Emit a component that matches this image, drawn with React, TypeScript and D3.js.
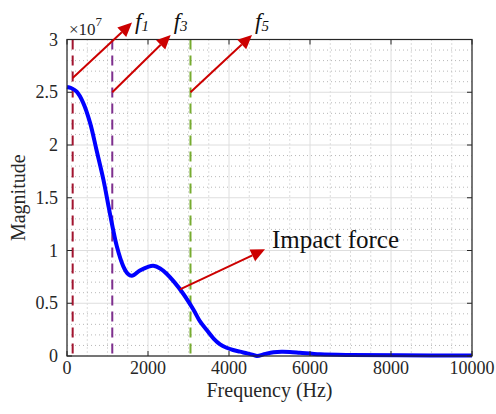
import React from "react";
import * as d3 from "d3";

const freqs = [0, 100, 240, 400, 570, 730, 900, 1060, 1230, 1390, 1500, 1600, 1800, 2000, 2130, 2300, 2460, 2650, 2870, 3120, 3280, 3450, 3620, 3780, 3940, 4100, 4270, 4450, 4600, 4690, 4900, 5100, 5300, 5500, 5750, 6250, 7000, 8200, 10000];
const mags = [2.55, 2.54, 2.505, 2.4, 2.21, 1.95, 1.67, 1.35, 1.04, 0.85, 0.78, 0.76, 0.81, 0.845, 0.855, 0.83, 0.78, 0.7, 0.59, 0.44, 0.33, 0.246, 0.165, 0.11, 0.078, 0.057, 0.041, 0.025, 0.01, 0.0, 0.02, 0.035, 0.04, 0.038, 0.031, 0.016, 0.009, 0.006, 0.005];

const xTicks = [0, 2000, 4000, 6000, 8000, 10000];
const yTicks = [0, 0.5, 1, 1.5, 2, 2.5, 3];
const xMinor = d3.range(0, 10001, 500);
const yMinor = d3.range(0, 3.0001, 0.1);

const markerFreqs = [140, 1118, 3049];
const markerColors = ["#A2142F", "#7E2F8E", "#77AC30"];

const arrowStartF = [140, 1118, 3049, 2790];
const arrowStartM = [2.635, 2.5, 2.5, 0.632];
const arrowEndF = [1605, 2560, 4568, 4889];
const arrowEndM = [3.16, 3.043, 3.043, 1.011];
const fLabels = ["1", "3", "5"];

const W = 496, H = 414;
const L = 67, R = 472, T = 39.5, B = 356;
const serif = "'Liberation Serif', 'Times New Roman', Times, serif";
const ts = { fontFamily: serif };

export default function App() {
  const x = d3.scaleLinear().domain([0, 10000]).range([L, R]);
  const y = d3.scaleLinear().domain([0, 3]).range([B, T]);
  const line = d3.line<number>().x((_, i) => x(freqs[i])).y((d) => y(d)).curve(d3.curveCatmullRom.alpha(0.5));

  const arrow = (i: number) => {
    const x0 = x(arrowStartF[i]), y0 = y(arrowStartM[i]);
    const x1 = x(arrowEndF[i]), y1 = y(arrowEndM[i]);
    const dx = x1 - x0, dy = y1 - y0;
    const len = Math.hypot(dx, dy);
    const ux = dx / len, uy = dy / len;
    const hl = 14, hw = 6.5;
    const bx = x1 - ux * hl, by = y1 - uy * hl;
    const px = -uy, py = ux;
    return (
      <g key={"a" + i}>
        <line x1={x0} y1={y0} x2={bx} y2={by} stroke="#CC0000" strokeWidth={2} />
        <polygon points={`${x1},${y1} ${bx + px * hw},${by + py * hw} ${bx - px * hw},${by - py * hw}`} fill="#CC0000" />
      </g>
    );
  };

  return (
    <svg width={W} height={H} style={{ position: "absolute", left: 0, top: 0, background: "#fff" }}>
      <rect x={L} y={T} width={R - L} height={B - T} fill="#fff" />
      {xMinor.filter((v) => v % 2000 !== 0).map((v) => (
        <line key={"xm" + v} x1={x(v)} x2={x(v)} y1={T} y2={B} stroke="#b8b8b8" strokeWidth={1} strokeDasharray="1,3" />
      ))}
      {yMinor.filter((v) => Math.abs(v * 2 - Math.round(v * 2)) > 1e-6).map((v, i) => (
        <line key={"ym" + i} x1={L} x2={R} y1={y(v)} y2={y(v)} stroke="#b8b8b8" strokeWidth={1} strokeDasharray="1,3" />
      ))}
      {xTicks.map((v) => (
        <line key={"xg" + v} x1={x(v)} x2={x(v)} y1={T} y2={B} stroke="#dedede" strokeWidth={1} />
      ))}
      {yTicks.map((v) => (
        <line key={"yg" + v} x1={L} x2={R} y1={y(v)} y2={y(v)} stroke="#dedede" strokeWidth={1} />
      ))}
      {markerFreqs.map((f, i) => (
        <line key={"mk" + i} x1={x(f)} x2={x(f)} y1={T} y2={B} stroke={markerColors[i]} strokeWidth={2} strokeDasharray="10,6" />
      ))}
      <path d={line(mags) || ""} fill="none" stroke="#0000FF" strokeWidth={4} strokeLinejoin="round" />
      <rect x={L} y={T} width={R - L} height={B - T} fill="none" stroke="#262626" strokeWidth={1.2} />
      {xTicks.map((v) => (
        <g key={"xt" + v}>
          <line x1={x(v)} x2={x(v)} y1={B} y2={B - 5} stroke="#262626" />
          <line x1={x(v)} x2={x(v)} y1={T} y2={T + 5} stroke="#262626" />
          <text x={x(v)} y={374} textAnchor="middle" fontSize={18} fill="#262626" style={ts}>{v}</text>
        </g>
      ))}
      {yTicks.map((v) => (
        <g key={"yt" + v}>
          <line x1={L} x2={L + 5} y1={y(v)} y2={y(v)} stroke="#262626" />
          <line x1={R} x2={R - 5} y1={y(v)} y2={y(v)} stroke="#262626" />
          <text x={58} y={y(v) + 6} textAnchor="end" fontSize={18} fill="#262626" style={ts}>{v}</text>
        </g>
      ))}
      <text x={69} y={35} fontSize={17} fill="#262626" style={ts}>×10<tspan dy={-9} fontSize={13}>7</tspan></text>
      <text x={(L + R) / 2} y={397} textAnchor="middle" fontSize={20} fill="#262626" style={ts}>Frequency (Hz)</text>
      <text transform={`translate(25,${(T + B) / 2}) rotate(-90)`} textAnchor="middle" fontSize={20} fill="#262626" style={ts}>Magnitude</text>
      {arrowStartF.map((_, i) => arrow(i))}
      {fLabels.map((s, i) => (
        <text key={"fl" + i} x={x(arrowEndF[i]) + 3} y={29} fontSize={23} fontStyle="italic" fill="#111" style={ts}>
          f<tspan dy={2} fontSize={15}>{s}</tspan>
        </text>
      ))}
      <text x={272} y={248} fontSize={25} fill="#111" style={ts}>Impact force</text>
    </svg>
  );
}
